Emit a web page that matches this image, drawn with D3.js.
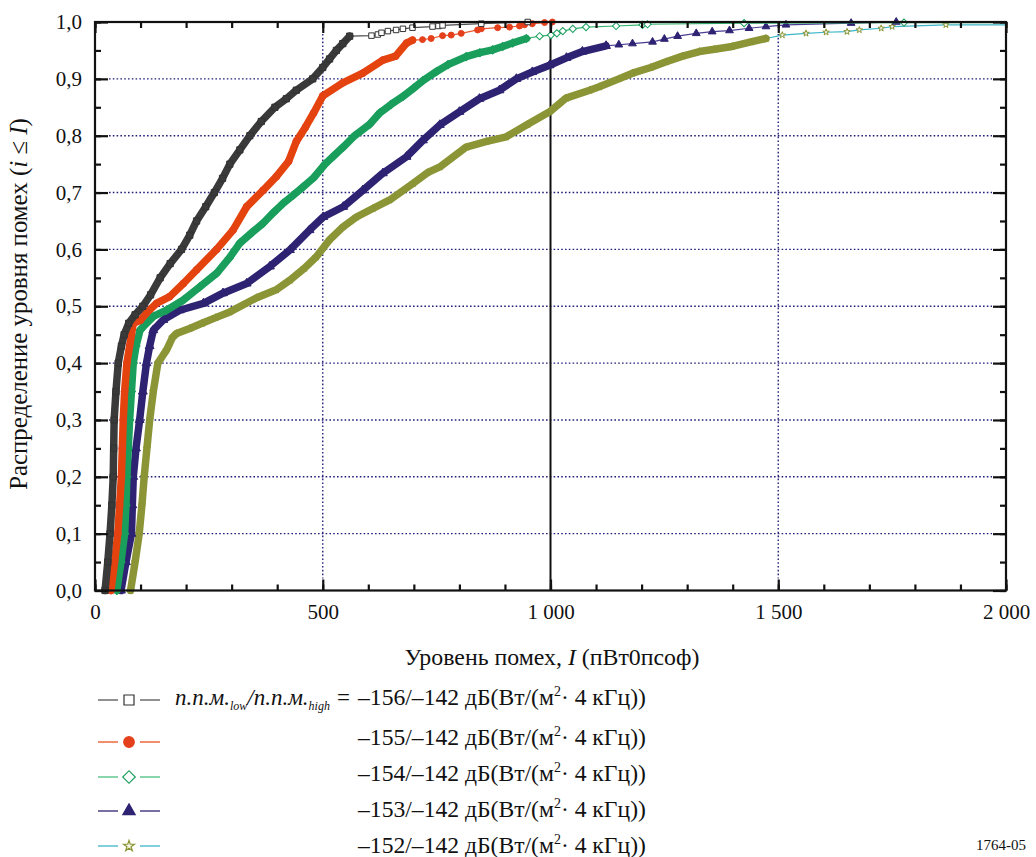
<!DOCTYPE html>
<html>
<head>
<meta charset="utf-8">
<script src="https://cdn.jsdelivr.net/npm/d3@7"></script>
<style>
  body { margin: 0; background: #fff; }
  svg { display: block; }
</style>
</head>
<body>
<svg id="chart" width="1036" height="857"></svg>
<script>
// Cumulative distributions of interference level I (pWp0) for five
// epfd_low / epfd_high combinations. Each point is [I, P(i <= I)].
// "Body" points are the densely sampled part, "tail" points the sparse upper end.

const xTickValues = [0, 500, 1000, 1500, 2000];
const yTickValues = [0, 0.1, 0.2, 0.3, 0.4, 0.5, 0.6, 0.7, 0.8, 0.9, 1.0];
const epfdLow = ["–156", "–155", "–154", "–153", "–152"];
const epfdHigh = "–142";

const body156 = [[22,0],[28,0.05],[33,0.1],[37,0.15],[40,0.2],[41,0.25],[42,0.3],[46,0.35],[51,0.4],[58,0.43],[64,0.45],[74,0.47],[88,0.485],[105,0.5],[122,0.52],[143,0.55],[165,0.575],[190,0.6],[208,0.625],[223,0.65],[243,0.675],[262,0.7],[280,0.725],[296,0.75],[318,0.775],[340,0.8],[365,0.825],[395,0.85],[420,0.865],[442,0.88],[478,0.9],[500,0.92],[515,0.935],[530,0.95],[544,0.962],[559,0.975]];
const tail156 = [[559,0.975],[607,0.976],[621,0.978],[629,0.981],[643,0.984],[661,0.986],[676,0.988],[697,0.99],[741,0.992],[754,0.993],[763,0.994],[848,0.997],[950,1.0]];

const body155 = [[35,0],[43,0.05],[50,0.1],[54,0.15],[58,0.2],[60,0.25],[62,0.3],[65,0.35],[70,0.4],[76,0.43],[80,0.45],[84,0.47],[99,0.475],[113,0.488],[135,0.505],[164,0.517],[194,0.54],[223,0.564],[267,0.6],[303,0.634],[333,0.675],[369,0.704],[398,0.728],[425,0.755],[442,0.79],[462,0.815],[480,0.84],[500,0.87],[544,0.893],[588,0.91],[632,0.933],[660,0.94],[684,0.963],[697,0.968]];
const tail155 = [[697,0.968],[719,0.969],[738,0.971],[763,0.976],[782,0.977],[804,0.98],[840,0.986],[848,0.988],[884,0.99],[910,0.991],[932,0.993],[943,0.995],[960,0.997],[987,0.999],[1004,1.0]];

const body154 = [[48,0],[57,0.05],[65,0.1],[68,0.15],[70,0.2],[73,0.25],[76,0.3],[80,0.35],[84,0.4],[90,0.43],[99,0.458],[113,0.47],[128,0.482],[157,0.493],[194,0.511],[230,0.534],[267,0.558],[295,0.585],[318,0.611],[345,0.63],[369,0.646],[392,0.665],[413,0.681],[436,0.696],[457,0.71],[480,0.726],[505,0.75],[525,0.765],[545,0.78],[570,0.8],[603,0.82],[625,0.84],[650,0.855],[676,0.869],[700,0.884],[720,0.897],[750,0.913],[775,0.925],[815,0.939],[845,0.946],[873,0.951],[895,0.957],[917,0.963],[947,0.971]];
const tail154 = [[947,0.971],[976,0.975],[1001,0.977],[1014,0.98],[1027,0.984],[1049,0.988],[1078,0.991],[1144,0.993],[1202,0.995],[1213,0.996],[1425,0.998],[1776,0.999]];

const body153 = [[57,0],[68,0.05],[80,0.1],[82,0.15],[84,0.2],[90,0.25],[98,0.3],[105,0.35],[113,0.4],[120,0.43],[128,0.458],[150,0.476],[186,0.493],[238,0.505],[281,0.523],[333,0.54],[384,0.57],[428,0.599],[471,0.634],[501,0.657],[545,0.675],[588,0.704],[632,0.734],[684,0.763],[720,0.792],[757,0.819],[800,0.842],[844,0.865],[888,0.88],[925,0.9],[960,0.912],[998,0.924],[1035,0.937],[1070,0.948],[1122,0.958]];
const tail153 = [[1122,0.958],[1150,0.96],[1180,0.962],[1224,0.965],[1250,0.97],[1279,0.975],[1320,0.98],[1355,0.983],[1393,0.985],[1436,0.989],[1473,0.992],[1517,0.995],[1660,0.998],[1759,1.0]];

const body152 = [[78,0],[88,0.05],[97,0.1],[103,0.15],[108,0.2],[114,0.25],[120,0.3],[128,0.35],[138,0.4],[157,0.423],[170,0.445],[179,0.452],[208,0.461],[235,0.47],[265,0.48],[296,0.49],[355,0.515],[398,0.529],[428,0.546],[460,0.567],[486,0.587],[515,0.617],[545,0.64],[574,0.657],[610,0.672],[647,0.687],[698,0.716],[730,0.735],[757,0.745],[815,0.78],[860,0.79],[903,0.798],[950,0.82],[998,0.842],[1034,0.866],[1086,0.88],[1107,0.886],[1150,0.9],[1180,0.91],[1220,0.92],[1254,0.93],[1290,0.94],[1327,0.948],[1360,0.952],[1399,0.957],[1440,0.965],[1473,0.971]];
const tail152 = [[1473,0.971],[1509,0.977],[1561,0.98],[1605,0.982],[1651,0.983],[1678,0.986],[1726,0.989],[1750,0.992],[1868,0.995]];

const seriesList = [
  { body: body152, tail: tail152, band: "#8b9536", line: "#3ab6c6", legendLine: "#3ab6c6", symbol: "star",     fill: "#f6f7e6", stroke: "#8b9536" },
  { body: body153, tail: tail153, band: "#2e2272", line: "#4a3f94", legendLine: "#2e2272", symbol: "triangle", fill: "#2e2272", stroke: "#2e2272" },
  { body: body154, tail: tail154, band: "#1a9e5c", line: "#36b46e", legendLine: "#4cbf80", symbol: "diamond",  fill: "#ffffff", stroke: "#1a9e5c" },
  { body: body155, tail: tail155, band: "#e4430e", line: "#ee5a30", legendLine: "#e8501e", symbol: "circle",   fill: "#e5401c", stroke: "#e5401c" },
  { body: body156, tail: tail156, band: "#3a3a3a", line: "#4a4a4a", legendLine: "#555555", symbol: "square",   fill: "#ffffff", stroke: "#333333" }
];

const svg = d3.select("#chart");
const W = 1036, H = 857;
const margin = { left: 95, right: 30, top: 22, bottom: 266.5 };
const FONT = '"Liberation Serif"';

const x = d3.scaleLinear().domain([0, 2000]).range([margin.left, W - margin.right]);
const y = d3.scaleLinear().domain([0, 1]).range([H - margin.bottom, margin.top]);
const [x0, x1] = x.range();
const [y0, y1] = y.range();

const ruLocale = d3.formatLocale({ decimal: ",", thousands: " ", grouping: [3], currency: ["", ""] });
const fmtX = ruLocale.format(",d");
const fmtY = ruLocale.format(".1f");

// Serif text helper
const serif = sel => sel.style("font-family", FONT).attr("fill", "#111");

// Scale a text element's font so that it spans the given width
function fitWidth(sel, width) {
  const fs = parseFloat(sel.attr("font-size"));
  const w = sel.node().getComputedTextLength();
  if (w > 0) sel.attr("font-size", (fs * width / w).toFixed(2));
  return sel;
}

// Marker shapes (area in px²)
const plotSizes = { square: 30, circle: 28, diamond: 26, triangle: 26, star: 13 };
const legendSizes = { square: 100, circle: 88, diamond: 78, triangle: 66, star: 36 };
const symbolTypes = { square: d3.symbolSquare, circle: d3.symbolCircle, diamond: d3.symbolSquare, triangle: d3.symbolTriangle, star: d3.symbolStar };
const symbolPath = (kind, area) => d3.symbol(symbolTypes[kind], area)();
const rotateFor = kind => kind === "diamond" ? " rotate(45)" : "";

// Grid
const grid = svg.append("g");
grid.selectAll("line.h").data(yTickValues.filter(v => v > 0 && v < 1)).join("line")
  .attr("x1", x0 + 14).attr("x2", x1 - 14)
  .attr("y1", d => y(d)).attr("y2", d => y(d))
  .attr("stroke", "#23207a").attr("stroke-width", 1.4).attr("stroke-dasharray", "1.6,2.2");
grid.selectAll("line.v").data([500, 1500]).join("line")
  .attr("x1", d => x(d)).attr("x2", d => x(d))
  .attr("y1", y1 + 12).attr("y2", y0 - 12)
  .attr("stroke", "#23207a").attr("stroke-width", 1.4).attr("stroke-dasharray", "1.6,2.2");
grid.append("line")
  .attr("x1", x(1000)).attr("x2", x(1000)).attr("y1", y1).attr("y2", y0)
  .attr("stroke", "#111").attr("stroke-width", 2);

// Series
const lineGen = d3.line().x(d => x(d[0])).y(d => y(d[1]));
const plot = svg.append("g");
seriesList.forEach(s => {
  const g = plot.append("g");
  const last = s.tail[s.tail.length - 1];
  // sparse upper end joined by a thin line, held flat to the end of the axis
  g.append("path")
    .attr("d", lineGen(s.tail) + "L" + x(2000) + "," + y(last[1]))
    .attr("fill", "none").attr("stroke", s.line).attr("stroke-width", 1.2);
  // densely sampled part: overlapping markers form a solid band
  g.append("path")
    .attr("d", lineGen(s.body))
    .attr("fill", "none").attr("stroke", s.band).attr("stroke-width", 7.5)
    .attr("stroke-linejoin", "round").attr("stroke-linecap", "round");
  g.selectAll("path.mb").data(s.body).join("path")
    .attr("d", symbolPath(s.symbol, plotSizes[s.symbol] * 1.3))
    .attr("transform", d => `translate(${x(d[0])},${y(d[1])})${rotateFor(s.symbol)}`)
    .attr("fill", s.band).attr("stroke", s.stroke).attr("stroke-width", 1);
  g.selectAll("path.mt").data(s.tail.slice(1)).join("path")
    .attr("d", symbolPath(s.symbol, plotSizes[s.symbol]))
    .attr("transform", d => `translate(${x(d[0])},${y(d[1])})${rotateFor(s.symbol)}`)
    .attr("fill", s.fill).attr("stroke", s.stroke).attr("stroke-width", 1);
});

// Frame and ticks
function styleAxis(g) {
  g.attr("font-size", 21).attr("font-family", null);
  g.select(".domain").remove();
  g.selectAll(".tick line").attr("stroke", "#111").attr("stroke-width", 2.2);
  g.selectAll(".tick text").call(serif);
}
const axes = svg.append("g");
const minorX = d3.range(0, 2001, 100);
const minorY = d3.range(0, 1.0001, 0.05);
axes.append("g").attr("transform", `translate(0,${y0})`)
  .call(d3.axisBottom(x).tickValues(minorX).tickSize(-6).tickFormat(""))
  .call(styleAxis);
axes.append("g").attr("transform", `translate(0,${y0})`)
  .call(d3.axisBottom(x).tickValues(xTickValues).tickSize(-11).tickPadding(14).tickFormat(fmtX))
  .call(styleAxis);
axes.append("g").attr("transform", `translate(0,${y1})`)
  .call(d3.axisTop(x).tickValues(minorX).tickSize(-6).tickFormat(""))
  .call(styleAxis);
axes.append("g").attr("transform", `translate(0,${y1})`)
  .call(d3.axisTop(x).tickValues(xTickValues).tickSize(-11).tickFormat(""))
  .call(styleAxis);
axes.append("g").attr("transform", `translate(${x0},0)`)
  .call(d3.axisLeft(y).tickValues(minorY).tickSize(-6).tickFormat(""))
  .call(styleAxis);
axes.append("g").attr("transform", `translate(${x0},0)`)
  .call(d3.axisLeft(y).tickValues(yTickValues).tickSize(-13).tickPadding(13).tickFormat(fmtY))
  .call(styleAxis);
axes.append("g").attr("transform", `translate(${x1},0)`)
  .call(d3.axisRight(y).tickValues(minorY).tickSize(-6).tickFormat(""))
  .call(styleAxis);
axes.append("g").attr("transform", `translate(${x1},0)`)
  .call(d3.axisRight(y).tickValues(yTickValues).tickSize(-13).tickFormat(""))
  .call(styleAxis);
svg.append("rect")
  .attr("x", x0).attr("y", y1).attr("width", x1 - x0).attr("height", y0 - y1)
  .attr("fill", "none").attr("stroke", "#111").attr("stroke-width", 2.2);

// Axis titles
const xTitle = svg.append("text").attr("x", 552).attr("y", 665)
  .attr("text-anchor", "middle").attr("font-size", 21).call(serif);
xTitle.append("tspan").text("Уровень помех, ");
xTitle.append("tspan").attr("font-style", "italic").text("I");
xTitle.append("tspan").text(" (пВт0псоф)");
fitWidth(xTitle, 295);

const yTitle = svg.append("text")
  .attr("transform", "translate(27,304) rotate(-90)")
  .attr("text-anchor", "middle").attr("font-size", 21).call(serif);
yTitle.append("tspan").text("Распределение уровня помех (");
yTitle.append("tspan").attr("font-style", "italic").text("i");
yTitle.append("tspan").text(" ≤ ");
yTitle.append("tspan").attr("font-style", "italic").text("I");
yTitle.append("tspan").text(")");
fitWidth(yTitle, 372);

// Legend
const legendRows = [700, 742, 777, 811, 846];
const legendTextY = [705, 745, 781, 817, 853];
const legend = svg.append("g");
const legendOrder = [4, 3, 2, 1, 0]; // -156 ... -152
legendOrder.forEach((si, i) => {
  const s = seriesList[si];
  const cy = legendRows[i];
  [[98, 118], [140, 160]].forEach(([a, b]) => {
    legend.append("line").attr("x1", a).attr("x2", b).attr("y1", cy).attr("y2", cy)
      .attr("stroke", s.legendLine).attr("stroke-width", 1.3);
  });
  legend.append("path")
    .attr("d", symbolPath(s.symbol, legendSizes[s.symbol]))
    .attr("transform", `translate(129,${cy})${rotateFor(s.symbol)}`)
    .attr("fill", s.fill).attr("stroke", s.stroke).attr("stroke-width", 1.2);

  const t = legend.append("text").attr("x", 358).attr("y", legendTextY[i])
    .attr("font-size", 22).call(serif);
  t.append("tspan").text(`${epfdLow[i]}/${epfdHigh} дБ(Вт/(м`);
  t.append("tspan").attr("font-size", 13).attr("dy", -9).text("2");
  t.append("tspan").attr("dy", 9).text("· 4 кГц))");
  const w = t.node().getComputedTextLength();
  t.attr("font-size", (22 * 288 / w).toFixed(2));
  t.select("tspan:nth-child(2)").attr("font-size", (13 * 288 / w).toFixed(2));
});
// First row caption: п.п.м.low / п.п.м.high =
const cap = legend.append("text").attr("x", 175).attr("y", 705).attr("font-size", 23)
  .attr("font-style", "italic").call(serif);
cap.append("tspan").text("п.п.м.");
cap.append("tspan").attr("font-size", 12).attr("dy", 5).text("low");
cap.append("tspan").attr("dy", -5).text("/п.п.м.");
cap.append("tspan").attr("font-size", 12).attr("dy", 5).text("high");
legend.append("text").attr("x", 337).attr("y", 705).attr("font-size", 23)
  .call(serif).text("=");

svg.append("text").attr("x", 1026).attr("y", 850).attr("text-anchor", "end")
  .attr("font-size", 15).call(serif).text("1764-05");
</script>
</body>
</html>
